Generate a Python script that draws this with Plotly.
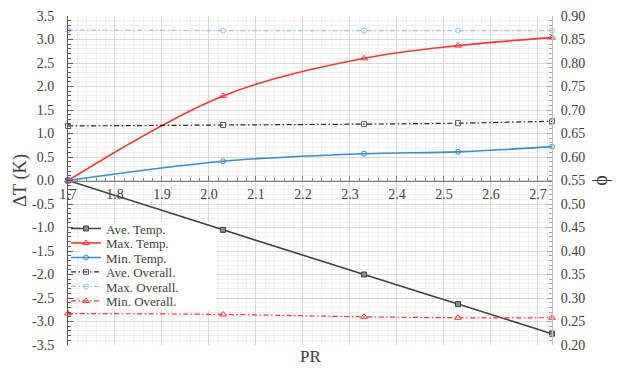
import plotly.graph_objects as go

# ---------------- data ----------------
pr = [1.7, 2.03, 2.33, 2.53, 2.73]
ave_temp = [0.0, -1.05, -2.0, -2.63, -3.26]
max_temp = [0.0, 1.80, 2.60, 2.87, 3.04]
min_temp = [0.0, 0.41, 0.57, 0.61, 0.72]
ave_overall = [0.666, 0.668, 0.670, 0.672, 0.676]
max_overall = [0.870, 0.869, 0.869, 0.869, 0.869]
min_overall = [0.267, 0.265, 0.260, 0.258, 0.258]

y_tickvals = [-3.5, -3.0, -2.5, -2.0, -1.5, -1.0, -0.5, 0.0, 0.5, 1.0, 1.5, 2.0, 2.5, 3.0, 3.5]
y_ticktext = ["-3.5", "-3.0", "-2.5", "-2.0", "-1.5", "-1.0", "-0.5", "0.0",
              "0.5", "1.0", "1.5", "2.0", "2.5", "3.0", "3.5"]
x_tickvals = [1.7, 1.8, 1.9, 2.0, 2.1, 2.2, 2.3, 2.4, 2.5, 2.6, 2.7]
x_ticktext = ["1.7", "1.8", "1.9", "2.0", "2.1", "2.2", "2.3", "2.4", "2.5", "2.6", "2.7"]
phi_tickvals = [0.20, 0.25, 0.30, 0.35, 0.40, 0.45, 0.50, 0.55, 0.60, 0.65, 0.70, 0.75, 0.80, 0.85, 0.90]

FONT = "Liberation Serif"
TXT = "#404040"

series = [
    dict(name="Ave. Temp.", y=ave_temp, axis="y", color="#404040", dash="solid", width=1.6,
         symbol="square", mcolor="#8c8c8c", mline="#404040", size=5),
    dict(name="Max. Temp.", y=max_temp, axis="y", color="#ff3535", dash="solid", width=1.6,
         symbol="triangle-up-open", mcolor="#ff3535", mline="#ff3535", size=6),
    dict(name="Min. Temp.", y=min_temp, axis="y", color="#3a8bd1", dash="solid", width=1.6,
         symbol="circle-open", mcolor="#3a8bd1", mline="#3a8bd1", size=5),
    dict(name="Ave. Overall.", y=ave_overall, axis="y2", color="#262626", dash="5px,2.5px,1.5px,2.5px", width=1.2,
         symbol="square-open", mcolor="#595959", mline="#595959", size=5),
    dict(name="Max. Overall.", y=max_overall, axis="y2", color="#9dc3e6", dash="5px,2.5px,1.5px,2.5px", width=1.2,
         symbol="circle-open", mcolor="#9dc3e6", mline="#9dc3e6", size=5),
    dict(name="Min. Overall.", y=min_overall, axis="y2", color="#ff3030", dash="5px,2.5px,1.5px,2.5px", width=1.2,
         symbol="triangle-up-open", mcolor="#ff3030", mline="#ff3030", size=6),
]

fig = go.Figure()
legend_ids = ["legend", "legend2", "legend3", "legend4", "legend5", "legend6"]
for s, lid in zip(series, legend_ids):
    fig.add_trace(go.Scatter(
        x=pr, y=s["y"], name=s["name"], yaxis=s["axis"], legend=lid,
        mode="lines+markers",
        line=dict(color=s["color"], width=s["width"], dash=s["dash"], shape="spline"),
        marker=dict(symbol=s["symbol"], size=s["size"], color=s["mcolor"],
                    line=dict(color=s["mline"], width=1)),
        cliponaxis=False,
    ))

# plot area in pixels: left 68, right 552, top 16, bottom 345
W, H = 621, 370
L, R, T, B = 68, 69, 16, 25
plot_w = W - L - R
plot_h = H - T - B
X_RANGE = [1.7, 2.73]
Y_RANGE = [-3.5, 3.5]


def px_to_x(px):
    return X_RANGE[0] + (px - L) / plot_w * (X_RANGE[1] - X_RANGE[0])


def px_to_y(py):
    return Y_RANGE[0] + (H - B - py) / plot_h * (Y_RANGE[1] - Y_RANGE[0])


legend_centers_px = [230, 244.5, 259, 273.5, 288, 302.5]
LEG_SHIFT = 1.5
legends = {}
for lid, cy in zip(legend_ids, legend_centers_px):
    legends[lid] = dict(
        x=(66 - L) / plot_w, xanchor="left",
        y=(H - B - (cy - LEG_SHIFT)) / plot_h, yanchor="middle",
        bgcolor="rgba(0,0,0,0)", borderwidth=0,
        font=dict(family=FONT, size=13, color=TXT),
        itemwidth=30, title=dict(text=""),
    )

fig.update_layout(
    width=W, height=H,
    margin=dict(l=L, r=R, t=T, b=B, autoexpand=False),
    paper_bgcolor="white", plot_bgcolor="white",
    font=dict(family=FONT, size=14, color=TXT),
    showlegend=True,
    xaxis=dict(
        range=X_RANGE, tickvals=x_tickvals, ticktext=x_ticktext,
        anchor="free", position=0.5,
        showline=True, linecolor="#7f7f7f", linewidth=1,
        ticks="inside", ticklen=5, tickcolor="#7f7f7f", ticklabelstandoff=1,
        showgrid=True, gridcolor="#d9d9d9", gridwidth=1, zeroline=False,
        minor=dict(dtick=0.02, tick0=1.7, ticks="inside", ticklen=3, tickcolor="#7f7f7f",
                   showgrid=True, gridcolor="#f1f1f1"),
        tickfont=dict(family=FONT, size=14, color=TXT),
    ),
    yaxis=dict(
        range=Y_RANGE, tickvals=y_tickvals, ticktext=y_ticktext,
        showline=True, linecolor="#595959", linewidth=1,
        ticks="inside", ticklen=5, tickcolor="#595959", ticklabelstandoff=10,
        showgrid=True, gridcolor="#d9d9d9", zeroline=False,
        minor=dict(dtick=0.1, tick0=0, ticks="inside", ticklen=3, tickcolor="#595959",
                   showgrid=True, gridcolor="#f1f1f1"),
        tickfont=dict(family=FONT, size=14, color=TXT),
        title=dict(text="ΔT (K)", font=dict(family=FONT, size=18.5, color=TXT), standoff=0),
    ),
    yaxis2=dict(
        range=[0.2, 0.9], tickvals=phi_tickvals, tickformat=".2f",
        overlaying="y", side="right", anchor="x",
        showline=True, linecolor="#bfbfbf", linewidth=1,
        ticks="inside", ticklen=5, tickcolor="#a6a6a6", ticklabelstandoff=5,
        showgrid=False, zeroline=False,
        minor=dict(dtick=0.01, tick0=0.2, ticks="inside", ticklen=3, tickcolor="#a6a6a6", showgrid=False),
        tickfont=dict(family=FONT, size=14, color=TXT),
        title=dict(text="ϕ", font=dict(family=FONT, size=20, color=TXT), standoff=8),
    ),
    **legends,
)

# white box behind the legend entries (above grid, below traces)
fig.add_shape(
    type="rect", xref="x", yref="y", layer="between",
    x0=px_to_x(80), x1=px_to_x(216),
    y0=px_to_y(310), y1=px_to_y(222),
    fillcolor="white", line=dict(width=0),
)

fig.add_annotation(
    text="PR", xref="paper", yref="paper", x=0.5, y=-(357 - (H - B)) / plot_h,
    xanchor="center", yanchor="middle", showarrow=False,
    font=dict(family=FONT, size=17, color=TXT),
)

fig.write_html("out.html", config={"displayModeBar": False},
               post_script="document.body.style.margin='0px';")
